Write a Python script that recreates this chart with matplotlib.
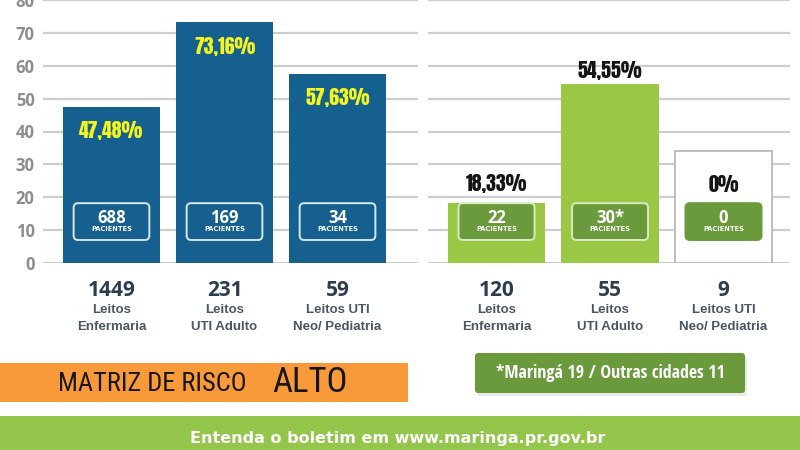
import matplotlib
matplotlib.use("Agg")
import matplotlib.pyplot as plt
from matplotlib.patches import FancyBboxPatch, Rectangle
from matplotlib import font_manager

# ---------------- data ----------------
left_pct = [47.48, 73.16, 57.63]
left_pct_labels = ["47,48%", "73,16%", "57,63%"]
left_patients = ["688", "169", "34"]
left_beds = ["1449", "231", "59"]
right_pct = [18.33, 54.55, 0.0]
right_pct_labels = ["18,33%", "54,55%", "0%"]
right_patients = ["22", "30*", "0"]
right_beds = ["120", "55", "9"]
bed_types = [("Leitos", "Enfermaria"), ("Leitos", "UTI Adulto"), ("Leitos UTI", "Neo/ Pediatria")]
empty_bar_height = 34
y_ticks = [0, 10, 20, 30, 40, 50, 60, 70, 80]
risk_label = "MATRIZ DE RISCO"
risk_level = "ALTO"
note_text = "*Maringá 19 / Outras cidades 11"
footer_text = "Entenda o boletim em www.maringa.pr.gov.br"

AVAIL = {f.name for f in font_manager.fontManager.ttflist}

def pick(*names):
    for n in names:
        if n in AVAIL:
            return n
    return "DejaVu Sans"

OS = "Open Sans"
OSC = pick("Open Sans Condensed", "Open Sans")
HEAVY = pick("Anton", "Open Sans Condensed", "Roboto Condensed")
HEAVY_SIZE = 14.2 if HEAVY == "Anton" else 16.5
NARROW = pick("Roboto Condensed", "PT Sans Narrow", "Archivo Narrow", "IBM Plex Sans Condensed",
              "Encode Sans Condensed", "Barlow Semi Condensed", "Open Sans Condensed")

BLUE = "#15608e"
LGREEN = "#9bc844"
DGREEN = "#6a9a3c"
YELLOW = "#f4f41e"
GRID = "#cdcdcd"
NAVY = "#2c3d50"
SLATE = "#4a5663"

W, H = 800, 450
fig = plt.figure(figsize=(8, 4.5), dpi=100)
fig.patch.set_facecolor("white")

def fx(px):
    return px / W

def fy(py):
    return (H - py) / H

bg = fig.add_axes([0, 0, 1, 1], zorder=-5)
bg.set_xlim(0, W)
bg.set_ylim(H, 0)
bg.axis("off")

y0_px = 263.0
ax_l = fig.add_axes([fx(43), fy(y0_px), fx(418) - fx(43), y0_px / H])
ax_r = fig.add_axes([fx(428), fy(y0_px), fx(790) - fx(428), y0_px / H])

bar_w = 0.858
box_w = 0.67
box_lo, box_hi = 7.0, 18.2

for ax, xl in ((ax_l, (-0.606, 2.712)), (ax_r, (-0.604, 2.586))):
    ax.set_xlim(*xl)
    ax.set_ylim(0, 80)
    ax.set_yticks(y_ticks)
    ax.set_xticks([])
    ax.grid(axis="y", color=GRID, linewidth=1.6, zorder=0)
    ax.set_axisbelow(True)
    for s in ax.spines.values():
        s.set_visible(False)
    ax.patch.set_alpha(0)
    ax.tick_params(axis="y", length=0)

ax_l.tick_params(axis="y", pad=6, labelsize=12, labelcolor="#8d8d8d")
for t in ax_l.get_yticklabels():
    t.set_fontweight("bold")
    t.set_fontfamily(OS)
ax_r.set_yticklabels([])

def patient_box(ax, x, text, face, edge):
    rb = FancyBboxPatch((x - box_w / 2, box_lo), box_w, box_hi - box_lo,
                        boxstyle="round,pad=0,rounding_size=0.04",
                        mutation_aspect=34, facecolor=face, edgecolor=edge,
                        linewidth=1.4, zorder=4)
    ax.add_patch(rb)
    ax.text(x, 13.7, text, ha="center", va="center", color="white",
            fontsize=12, fontweight="bold", family=OS, zorder=5)
    ax.text(x, 10.2, "PACIENTES", ha="center", va="center", color="white",
            fontsize=4.8, fontweight="bold", family="DejaVu Sans", zorder=5)

def bottom_labels(ax, x, num, lines):
    ax.annotate(num, xy=(x, 0), xytext=(0, -19.5), textcoords="offset points",
                ha="center", va="center", color=NAVY, fontsize=15,
                fontweight="bold", family=OS, annotation_clip=False)
    for k, off in enumerate((-34.0, -46.3)):
        ax.annotate(lines[k], xy=(x, 0), xytext=(0, off), textcoords="offset points",
                    ha="center", va="center", color=SLATE, fontsize=9.5,
                    fontweight="bold", family="Liberation Sans", annotation_clip=False)

# left panel
xs = list(range(len(left_pct)))
ax_l.bar(xs, left_pct, width=bar_w, color=BLUE, zorder=2)
for i in xs:
    ax_l.annotate(left_pct_labels[i], xy=(i, left_pct[i]), xytext=(0, -17),
                  textcoords="offset points", ha="center", va="center",
                  color=YELLOW, fontsize=HEAVY_SIZE, fontweight="bold", family=HEAVY, zorder=5)
    patient_box(ax_l, i, left_patients[i], BLUE, "#d6e6f0")
    bottom_labels(ax_l, i, left_beds[i], bed_types[i])

# right panel
rx = list(range(len(right_pct)))
ax_r.bar([2], [empty_bar_height], width=bar_w, facecolor="white",
         edgecolor="#b9b9b9", linewidth=1.3, zorder=2)
ax_r.bar(rx, right_pct, width=bar_w, color=LGREEN, zorder=3)
r_offsets = [6.8, 2.4, 6.8]
for i in rx:
    base = max(right_pct[i], box_hi)
    ax_r.annotate(right_pct_labels[i], xy=(i, base), xytext=(0, r_offsets[i]),
                  textcoords="offset points", ha="center", va="bottom",
                  color="#141414", fontsize=HEAVY_SIZE, fontweight="bold", family=HEAVY, zorder=5)
    edge = "#d8eac0" if right_pct[i] > 0 else DGREEN
    patient_box(ax_r, i, right_patients[i], DGREEN, edge)
    bottom_labels(ax_r, i, right_beds[i], bed_types[i])

# orange risk box
bg.add_patch(Rectangle((0, 363), 408, 39, facecolor="#f99a3a", edgecolor="none"))
bg.text(58, 384, risk_label, ha="left", va="center", fontsize=19,
        fontweight="normal", color="#161616", family=NARROW)
bg.text(272, 383, risk_level, ha="left", va="center", fontsize=25,
        fontweight="normal", color="#161616", family=NARROW)

# green note box
bg.add_patch(FancyBboxPatch((477, 356), 270, 40, boxstyle="round,pad=0,rounding_size=3",
                            facecolor="#d9d9d9", edgecolor="none", alpha=0.6))
bg.add_patch(FancyBboxPatch((475, 353), 270, 40, boxstyle="round,pad=0,rounding_size=3",
                            facecolor=DGREEN, edgecolor="none"))
bg.text(610, 373, note_text, ha="center", va="center", fontsize=13,
        fontweight="bold", color="white", family=OSC)

# footer band
bg.add_patch(Rectangle((0, 416), 800, 34, facecolor="#93c64a", edgecolor="none"))
bg.text(398, 439, footer_text, ha="center", va="center", fontsize=11.5,
        fontweight="bold", family="DejaVu Sans", color="white")

fig.savefig("out.png", dpi=100, facecolor="white")
